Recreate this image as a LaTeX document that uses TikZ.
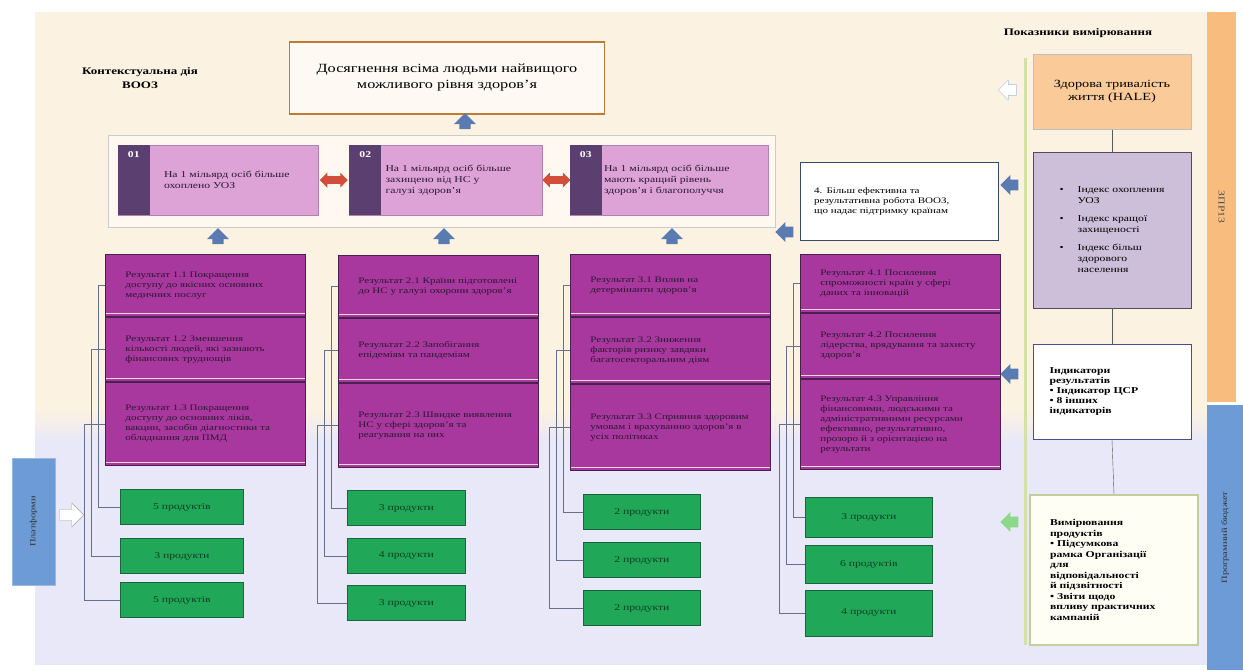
\documentclass[tikz,border=0pt]{standalone}
\usepackage{fontspec}
\setmainfont{Liberation Serif}[FakeStretch=1.3]
\usetikzlibrary{shapes.arrows,calc}

\definecolor{cream}{HTML}{FCF2E2}
\definecolor{lavend}{HTML}{E9E8F8}
\definecolor{goalframe}{HTML}{C07A36}
\definecolor{pinkbox}{HTML}{DDA3D6}
\definecolor{stripe}{HTML}{5A3F70}
\definecolor{resfill}{HTML}{A8389E}
\definecolor{resline}{HTML}{4A2050}
\definecolor{prodfill}{HTML}{20A758}
\definecolor{prodline}{HTML}{17663C}
\definecolor{arrowblue}{HTML}{5A7BB2}
\definecolor{arrowred}{HTML}{D24E3A}
\definecolor{treeline}{HTML}{66708C}
\definecolor{barblue}{HTML}{6C9BD6}
\definecolor{barorange}{HTML}{F8BD7E}
\definecolor{halefill}{HTML}{FACB99}
\definecolor{indexfill}{HTML}{CDBEDA}
\definecolor{textdark}{HTML}{2A1830}
\definecolor{linegreen}{HTML}{D3E2A4}

\begin{document}
\begin{tikzpicture}[x=1pt,y=-1pt,
  resbox/.style={draw=resline, line width=0.8pt, fill=resfill, minimum width=200,
    anchor=north west, text width=160, align=left, inner sep=0pt, text=textdark,
    font=\fontsize{8.5}{10}\selectfont},
  prodbox/.style={draw=prodline, line width=0.8pt, fill=prodfill, anchor=west,
    minimum height=35, text=prodline!60!black, font=\fontsize{9}{10}\selectfont},
  outbox/.style={draw=pinkbox!80!black, fill=pinkbox, minimum height=70},
  outtext/.style={anchor=west, text width=155, align=left, inner sep=0pt,
    text=textdark, font=\fontsize{9}{11}\selectfont},
  uparrow/.style={single arrow, shape border rotate=90, fill=arrowblue,
    minimum width=22, minimum height=15, single arrow head extend=5pt, inner sep=5pt},
  leftarrow/.style={single arrow, shape border rotate=180, fill=arrowblue,
    minimum width=20, minimum height=18, single arrow head extend=4pt, inner sep=4.5pt},
  redarrow/.style={double arrow, fill=arrowred, minimum width=15,
    minimum height=28, double arrow head extend=3pt, inner sep=3pt},
  tree/.style={treeline, line width=0.7pt},
  sidebox/.style={minimum width=158, align=left, text=black,
    font=\fontsize{9}{11}\selectfont}
]
\useasboundingbox (0,0) rectangle (1243,670);
\fill[white] (0,0) rectangle (1243,670);
\fill[cream] (35,12) rectangle (1207,410);
\shade[top color=cream, bottom color=lavend] (35,409) rectangle (1207,441);
\fill[lavend] (35,440) rectangle (1207,665);

%%% side bars
\node[rotate=-90, fill=barorange, minimum width=390, minimum height=29,
  font=\fontsize{9}{10}\selectfont, text=black!70] (gpw) at (1221.5,207) {ЗПР13};
\node[rotate=90, fill=barblue, minimum width=265, minimum height=36,
  font=\fontsize{8}{9}\selectfont, text=black!80] (pb) at (1225,537.5) {Програмний бюджет};
\node[rotate=90, fill=barblue, draw=barblue!70!white, minimum width=127, minimum height=43,
  font=\fontsize{8}{9}\selectfont, text=black!80] (platf) at (33.5,521.5) {Платформи};
\node[single arrow, draw=gray!70, fill=white, minimum width=24, minimum height=24,
  single arrow head extend=5pt, inner sep=4pt] (parrow) at (69,515) {};

%%% goal
\node[font=\bfseries\fontsize{10}{14}\selectfont, align=center] (ctx) at (140,78)
  {Контекстуальна дія\\ВООЗ};
\node[draw=goalframe, line width=1.5pt, fill=white!60!cream, minimum width=315,
  minimum height=72, align=center, font=\fontsize{12.5}{16}\selectfont] (goal) at (447,78)
  {Досягнення всіма людьми найвищого\\можливого рівня здоров'я};

\draw[gray!40, fill=white!50!cream] (108,135) rectangle (775,227);
\node[uparrow] (upgoal) at (465,124) {};

%%% outcomes
\node[outbox, minimum width=200] (o1) at (218,180) {};
\node[outbox, minimum width=193] (o2) at (446,180) {};
\node[outbox, minimum width=198] (o3) at (669,180) {};
\foreach \o in {1,2,3}
{
\fill[stripe] (o\o.north west) rectangle ([xshift=32pt]o\o.south west);
\node[text=white, font=\bfseries\fontsize{9}{10}\selectfont] at ([xshift=16pt,yshift=-10pt]o\o.north west) {0\o};
}
\node[outtext] (t1) at ([xshift=46pt]o1.west) {На 1 мільярд осіб більше\\охоплено УОЗ};
\node[outtext] (t2) at ([xshift=36pt]o2.west) {На 1 мільярд осіб більше\\захищено від НС у\\галузі здоров'я};
\node[outtext] (t3) at ([xshift=34pt]o3.west) {На 1 мільярд осіб більше\\мають кращий рівень\\здоров'я і благополуччя};
\node[redarrow] (d12) at ($(o1.east)!0.5!(o2.west)$) {};
\node[redarrow] (d23) at ($(o2.east)!0.5!(o3.west)$) {};

\node[draw=arrowblue!60!black, line width=1pt, fill=white, minimum width=198,
  minimum height=78, text width=170, align=left, inner sep=0pt,
  font=\fontsize{8.5}{10}\selectfont] (o4) at (899,201)
  {4. Більш ефективна та\\результативна робота ВООЗ,\\що надає підтримку країнам};
\node[leftarrow] (l4) at (787,232) {};

\node[uparrow] (up1) at (218,239) {};
\node[uparrow] (up2) at (444,239) {};
\node[uparrow] (up3) at (672,239) {};

%%% results
\node[resbox, minimum height=62] (res11) at (105,254) {Результат 1.1 Покращення доступу до якісних основних медичних послуг};
\node[resbox, minimum height=64] (res12) at (105,317) {Результат 1.2 Зменшення кількості людей, які зазнають фінансових труднощів};
\node[resbox, minimum height=83] (res13) at (105,382) {Результат 1.3 Покращення доступу до основних ліків, вакцин, засобів діагностики та обладнання для ПМД};

\node[resbox, minimum height=62] (res21) at (338,255) {Результат 2.1 Країни підготовлені до НС у галузі охорони здоров'я};
\node[resbox, minimum height=64] (res22) at (338,318) {Результат 2.2 Запобігання епідеміям та пандеміям};
\node[resbox, minimum height=84] (res23) at (338,383) {Результат 2.3 Швидке виявлення НС у сфері здоров'я та реагування на них};

\node[resbox, minimum height=62] (res31) at (570,254) {Результат 3.1 Вплив на детермінанти здоров'я};
\node[resbox, minimum height=66] (res32) at (570,317) {Результат 3.2 Зниження факторів ризику завдяки багатосекторальним діям};
\node[resbox, minimum height=86] (res33) at (570,384) {Результат 3.3 Сприяння здоровим умовам і врахуванню здоров'я в усіх політиках};

\node[resbox, minimum height=58] (res41) at (800,254) {Результат 4.1 Посилення спроможності країн у сфері даних та інновацій};
\node[resbox, minimum height=65] (res42) at (800,313) {Результат 4.2 Посилення лідерства, врядування та захисту здоров'я};
\node[resbox, minimum height=90] (res43) at (800,379) {Результат 4.3 Управління фінансовими, людськими та адміністративними ресурсами ефективно, результативно, прозоро й з орієнтацією на результати};

\foreach \n in {11,12,13,21,22,23,31,32,33,41,42,43}
\draw[pink!60!white, line width=1.2pt] ([xshift=1pt,yshift=3pt]res\n.south west) -- ([xshift=-1pt,yshift=3pt]res\n.south east);

%%% products
\node[prodbox, minimum width=123] (prod11) at (120,507) {5 продуктів};
\node[prodbox, minimum width=123] (prod12) at (120,556) {3 продукти};
\node[prodbox, minimum width=123] (prod13) at (120,600) {5 продуктів};

\node[prodbox, minimum width=118] (prod21) at (347,508) {3 продукти};
\node[prodbox, minimum width=118] (prod22) at (347,556) {4 продукти};
\node[prodbox, minimum width=118] (prod23) at (347,603) {3 продукти};

\node[prodbox, minimum width=117] (prod31) at (583,512) {2 продукти};
\node[prodbox, minimum width=117] (prod32) at (583,560) {2 продукти};
\node[prodbox, minimum width=117] (prod33) at (583,608) {2 продукти};

\node[prodbox, minimum width=127, minimum height=40] (prod41) at (805,517) {3 продукти};
\node[prodbox, minimum width=127, minimum height=38] (prod42) at (805,564) {6 продуктів};
\node[prodbox, minimum width=127, minimum height=46] (prod43) at (805,613) {4 продукти};

\foreach \c in {1,...,4}
\foreach \r/\d in {1/7,2/14,3/21}
\draw[tree] (res\c\r.west) -- ++(-\d,0) |- (prod\c\r.west);

%%% measurement
\node[font=\bfseries\fontsize{10}{12}\selectfont] (meas) at (1078,33) {Показники вимірювання};
\draw[linegreen, line width=3pt] (1025,58) -- (1025,645);

\node[sidebox, draw=gray!50, fill=halefill, minimum height=75, align=center,
  font=\fontsize{11}{13}\selectfont] (hale) at (1112,92) {Здорова тривалість\\життя (HALE)};
\node[sidebox, draw=black!60!indexfill, line width=0.8pt, fill=indexfill, minimum height=156] (index) at (1112,230)
  {\begin{tabular}{@{}l@{\hspace{14pt}}l@{}}
   \textbullet & Індекс охоплення\\ & УОЗ\\[7pt]
   \textbullet & Індекс кращої\\ & захищеності\\[7pt]
   \textbullet & Індекс більш\\ & здорового\\ & населення
   \end{tabular}};
\node[sidebox, draw=black!60!blue!70, line width=0.8pt, fill=white, minimum height=95,
  text width=125, font=\bfseries\fontsize{9}{10}\selectfont] (resind) at (1112,392)
  {Індикатори\\результатів\\\textbullet\ Індикатор ЦСР\\\textbullet\ 8 інших\\індикаторів};
\node[sidebox, draw=linegreen!80!gray, line width=1.2pt, fill=yellow!4, minimum width=168,
  minimum height=150, text width=128, font=\bfseries\fontsize{9}{10.5}\selectfont] (outm) at (1114,570)
  {Вимірювання\\продуктів\\\textbullet\ Підсумкова\\рамка Організації\\для\\відповідальності\\й підзвітності\\\textbullet\ Звіти щодо\\впливу практичних\\кампаній};

\draw[gray!70!black] (hale.south) -- (index.north);
\draw[gray!70!black] (index.south) -- (resind.north);
\draw[gray!70!black] (resind.south) -- (outm.north);

\node[single arrow, shape border rotate=180, draw=arrowblue!50, fill=white,
  minimum width=20, minimum height=18, single arrow head extend=4pt, inner sep=4.5pt] (lhale) at (1010,90) {};
\node[leftarrow] (lindex) at (1012,185) {};
\node[leftarrow] (lres) at (1012,374) {};
\node[leftarrow, fill=green!50!gray!60] (lout) at (1012,522) {};

\end{tikzpicture}
\end{document}
